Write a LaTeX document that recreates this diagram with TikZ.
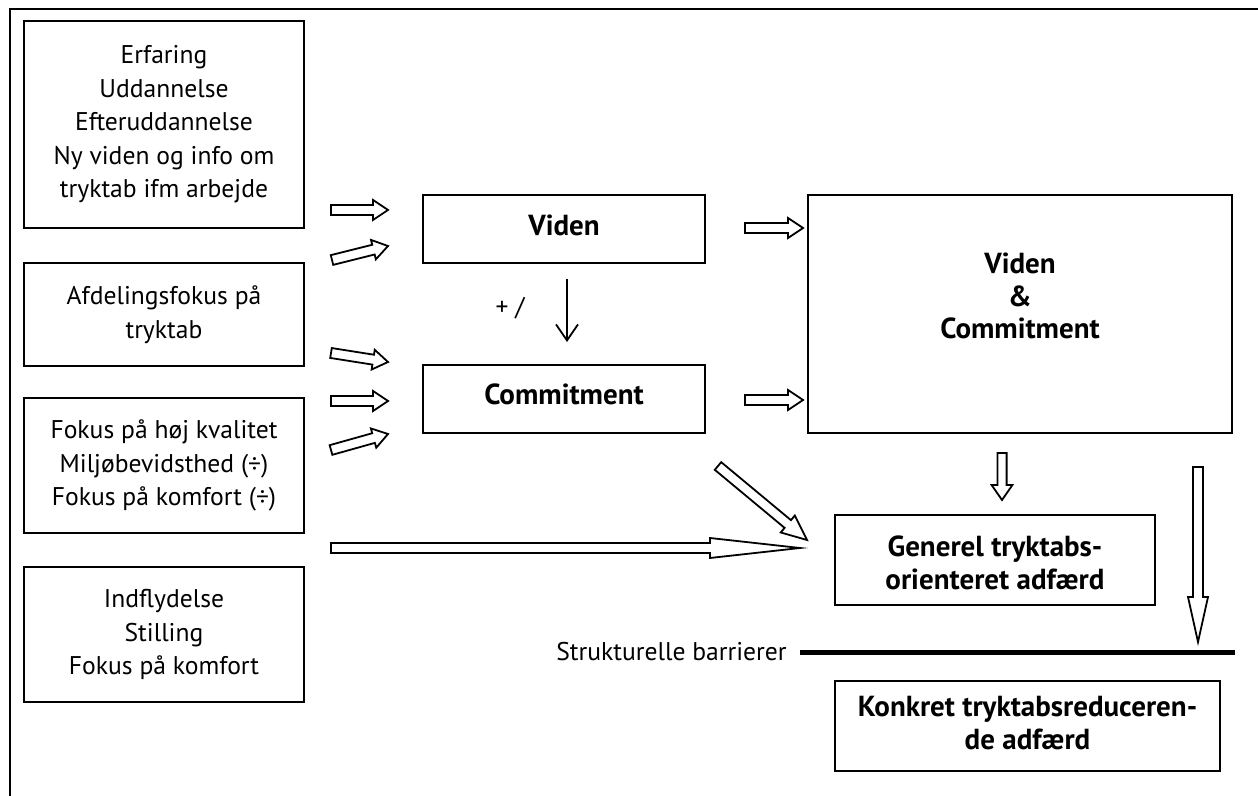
\documentclass[tikz,border=0pt]{standalone}
\usepackage{fontspec}
\setmainfont{PT Sans}
\usetikzlibrary{calc,arrows.meta}
\tikzset{
  box/.style={draw, line width=1pt, inner sep=0pt, align=center, font=\fontsize{12.8}{16.75}\selectfont},
  frame/.style={draw, line width=1pt, inner sep=0pt},
  btext/.style={inner sep=0pt, align=center, font=\bfseries\fontsize{14.5}{16.25}\selectfont},
  blk/.style={draw, line width=0.9pt, fill=white, line join=miter},
  plain/.style={inner sep=0pt, font=\fontsize{12.8}{16.75}\selectfont}
}
\newcommand\blockarr[5]{%
  \coordinate (tmpH) at ($(#2)!#5!(#1)$);
  \draw[blk] ($(#1)!#3!90:(#2)$) -- ($(tmpH)!#3!90:(#2)$) -- ($(tmpH)!#4!90:(#2)$) -- (#2) -- ($(tmpH)!#4!-90:(#2)$) -- ($(tmpH)!#3!-90:(#2)$) -- ($(#1)!#3!-90:(#2)$) -- cycle;
}
\begin{document}
\begin{tikzpicture}[x=0.5pt,y=-0.5pt]
\useasboundingbox (0,0) rectangle (1258,796);
% frame
\draw[line width=1pt] (10,796) -- (10,9) -- (1258,9);
% left boxes
\node[box, minimum width=140pt, minimum height=103.5pt] (b1) at (164,124.5) {Erfaring\\Uddannelse\\Efteruddannelse\\Ny viden og info om\\tryktab ifm arbejde};
\node[box, minimum width=140pt, minimum height=51.5pt] (b2) at (164,314.5) {Afdelingsfokus på\\tryktab};
\node[box, minimum width=140pt, minimum height=67.5pt] (b3) at (164,465.5) {Fokus på høj kvalitet\\Miljøbevidsthed (÷)\\Fokus på komfort (÷)};
\node[box, minimum width=140pt, minimum height=67.5pt] (b4) at (164,634.5) {Indflydelse\\Stilling\\Fokus på komfort};
% middle and right boxes
\node[frame, minimum width=141pt, minimum height=34pt] (viden) at (564,229) {};
\node[btext] (videnT) at (564,225) {Viden};
\node[frame, minimum width=141pt, minimum height=34pt] (comm) at (564,399) {};
\node[btext] (commT) at (564,394) {Commitment};
\node[frame, minimum width=212pt, minimum height=119pt] (big) at (1020,314) {};
\node[btext] (bigT) at (1020,296) {Viden\\\&\\Commitment};
\node[frame, minimum width=160pt, minimum height=45pt] (gen) at (995,560) {};
\node[btext] (genT) at (995,563) {Generel tryktabs-\\orienteret adfærd};
\node[frame, minimum width=192.5pt, minimum height=45pt] (konk) at (1027.5,726) {};
\node[btext] (konkT) at (1027.5,723) {Konkret tryktabsreduceren-\\de adfærd};
% labels
\node[plain, anchor=east] (struk) at (787,652) {Strukturelle barrierer};
\node[plain] (plus) at (510,308) {+ /};
% barrier line
\coordinate (barL) at (800,652);
\coordinate (barR) at (1235,652);
\draw[line width=2.5pt] (barL) -- (barR);
% viden -> commitment
\draw[line width=0.9pt, -{Straight Barb[length=8pt,width=11pt,line width=0.9pt]}, shorten <=7.5pt, shorten >=11pt] ([xshift=1.5pt]viden.south) -- ([xshift=1.5pt]comm.north);
% block arrows
\coordinate (a1t) at (331,210); \coordinate (a1h) at (388,210);
\coordinate (a2t) at (332,260); \coordinate (a2h) at (388,246);
\coordinate (a3t) at (331,353); \coordinate (a3h) at (388,362);
\coordinate (a4t) at (331,401); \coordinate (a4h) at (388,401);
\coordinate (a5t) at (331,450); \coordinate (a5h) at (388,434);
\coordinate (a6t) at (331,548); \coordinate (a6h) at (800,548);
\coordinate (a7t) at (745,228); \coordinate (a7h) at (803,228);
\coordinate (a8t) at (745,400); \coordinate (a8h) at (803,400);
\coordinate (a9t) at (718,466); \coordinate (a9h) at (807,540);
\coordinate (a10t) at (1002,453); \coordinate (a10h) at (1002,500);
\coordinate (a11t) at (1198,467); \coordinate (a11h) at (1198,642);
\blockarr{a1t}{a1h}{2.5pt}{5pt}{7.5pt}
\blockarr{a2t}{a2h}{2.5pt}{5pt}{7.5pt}
\blockarr{a3t}{a3h}{2.5pt}{5pt}{7.5pt}
\blockarr{a4t}{a4h}{2.5pt}{5pt}{7.5pt}
\blockarr{a5t}{a5h}{2.5pt}{5pt}{7.5pt}
\blockarr{a6t}{a6h}{2.5pt}{5pt}{45pt}
\blockarr{a7t}{a7h}{2.5pt}{5pt}{7.5pt}
\blockarr{a8t}{a8h}{2.5pt}{5pt}{7.5pt}
\blockarr{a9t}{a9h}{2.5pt}{5.5pt}{12.5pt}
\blockarr{a10t}{a10h}{2.3pt}{5.2pt}{7.5pt}
\blockarr{a11t}{a11h}{2.5pt}{5pt}{22.5pt}
\end{tikzpicture}
\end{document}
